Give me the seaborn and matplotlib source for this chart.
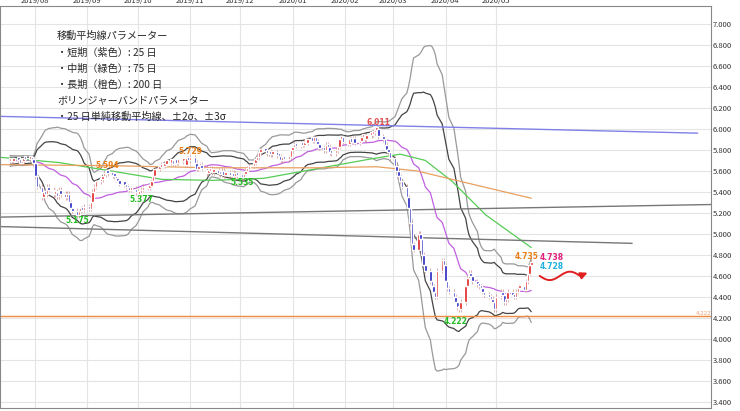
import numpy as np
import pandas as pd
import matplotlib
matplotlib.use("Agg")
import matplotlib.pyplot as plt
import matplotlib.dates as mdates
import seaborn as sns

# ---- data ----
PRE_CLOSES = [5.66, 5.68, 5.67, 5.70, 5.69, 5.71, 5.68, 5.66, 5.69, 5.70,
              5.72, 5.70, 5.68, 5.71, 5.73, 5.70, 5.69, 5.72, 5.71, 5.70,
              5.68, 5.70, 5.71, 5.69]
CLOSES = [
    5.70, 5.69, 5.71,
    5.70, 5.68, 5.69, 5.72, 5.71,
    5.72, 5.70, 5.68, 5.55, 5.45,
    5.35, 5.40, 5.38, 5.45, 5.42,
    5.38, 5.40, 5.36, 5.42, 5.38,
    5.35, 5.38, 5.30, 5.25, 5.22,
    5.18, 5.22, 5.24, 5.23, 5.26,
    5.24, 5.30, 5.40, 5.45, 5.50,
    5.52, 5.55, 5.57, 5.59, 5.58,
    5.56, 5.55, 5.52, 5.50, 5.48,
    5.47, 5.45, 5.44, 5.42, 5.43,
    5.40, 5.38, 5.39, 5.42, 5.45,
    5.44, 5.46, 5.50, 5.55, 5.62,
    5.64, 5.66, 5.65, 5.67, 5.68,
    5.68, 5.67, 5.69, 5.68, 5.69,
    5.70, 5.66, 5.72, 5.70, 5.73,
    5.68, 5.62, 5.65, 5.66, 5.63,
    5.58, 5.60, 5.62, 5.59, 5.60,
    5.58, 5.57, 5.60, 5.56, 5.58,
    5.56, 5.58, 5.55, 5.57, 5.56,
    5.54, 5.57, 5.60, 5.62, 5.65,
    5.68, 5.70, 5.73, 5.78, 5.80,
    5.79, 5.77, 5.78, 5.76, 5.77,
    5.75, 5.74, 5.70, 5.72, 5.71,
    5.73, 5.80, 5.83, 5.85, 5.84,
    5.86, 5.85, 5.88, 5.87, 5.90,
    5.89, 5.92, 5.88, 5.86, 5.82,
    5.80, 5.85, 5.83, 5.78, 5.77,
    5.80, 5.83, 5.90, 5.92, 5.88,
    5.86, 5.90, 5.88, 5.91, 5.87,
    5.89, 5.92, 5.93, 5.90, 5.94,
    5.95, 5.97, 5.99, 6.00, 5.93,
    5.90, 5.85, 5.80, 5.78, 5.72,
    5.65, 5.60, 5.55, 5.50, 5.45,
    5.35, 5.25, 5.10, 4.90, 4.85,
    5.00, 4.95, 4.80, 4.70, 4.65,
    4.55, 4.50, 4.45, 4.40, 4.65,
    4.75, 4.70, 4.55, 4.48, 4.45,
    4.40, 4.35, 4.30, 4.28, 4.35,
    4.50, 4.58, 4.63, 4.60, 4.55,
    4.52, 4.50, 4.48, 4.45, 4.42,
    4.40, 4.38, 4.35, 4.28, 4.40,
    4.45, 4.42, 4.35, 4.38, 4.45,
    4.42, 4.40, 4.45, 4.48, 4.50,
    4.47, 4.55, 4.62, 4.70, 4.735,
]
START = "2019-07-17"

MA75_DATES = ["2019-07-11", "2019-08-15", "2019-09-15", "2019-10-15", "2019-11-15",
              "2019-12-15", "2020-01-15", "2020-02-15", "2020-03-05", "2020-03-20",
              "2020-04-05", "2020-04-25", "2020-05-22"]
MA75_VALUES = [5.73, 5.68, 5.60, 5.52, 5.51, 5.53, 5.62, 5.71, 5.76, 5.70, 5.50, 5.18, 4.87]
MA200_DATES = ["2019-07-11", "2019-09-15", "2019-11-15", "2020-01-15", "2020-02-20",
               "2020-03-15", "2020-04-10", "2020-05-22"]
MA200_VALUES = [5.66, 5.65, 5.63, 5.63, 5.64, 5.60, 5.50, 5.34]

TREND_DATES = [["2019-07-11", "2020-08-29"], ["2019-07-11", "2020-09-06"],
               ["2019-07-11", "2020-07-21"]]
TREND_VALUES = [[6.12, 5.96], [5.16, 5.28], [5.07, 4.91]]
TREND_COLORS = ["#8080e8", "#777777", "#777777"]
SUPPORT = 4.222

LABELS = [("2019-08-26", 5.175, "5.175", "#22bb22", -0.07),
          ("2019-10-03", 5.377, "5.377", "#22bb22", -0.07),
          ("2019-12-02", 5.535, "5.535", "#22bb22", -0.07),
          ("2019-09-13", 5.594, "5.594", "#e8801a", 0.03),
          ("2019-11-01", 5.729, "5.729", "#e8801a", 0.03),
          ("2020-02-21", 6.011, "6.011", "#e05050", 0.03),
          ("2020-04-07", 4.222, "4.222", "#22bb22", -0.08)]

TEXT_LINES = ["移動平均線パラメーター", "・短期（紫色）: 25 日", "・中期（緑色）: 75 日",
              "・長期（橙色）: 200 日", "ボリンジャーバンドパラメーター",
              "・25 日単純移動平均線、±2σ、±3σ"]

# ---- build ----
dates = pd.bdate_range(START, periods=len(CLOSES))
allc = pd.Series(PRE_CLOSES + CLOSES, dtype=float)
mid = allc.rolling(25).mean().iloc[len(PRE_CLOSES):].to_numpy()
sd = allc.rolling(25).std(ddof=0).iloc[len(PRE_CLOSES):].to_numpy()
close = np.array(CLOSES)
opn = np.array(PRE_CLOSES[-1:] + CLOSES[:-1])

sns.set_style("white")
plt.rcParams["font.family"] = ["Noto Sans CJK JP", "DejaVu Sans"]

fig = plt.figure(figsize=(7.4, 4.11), dpi=100)
ax = fig.add_axes([0.0, 0.007, 0.961, 0.978])

for k, c, w in [(3, "#999999", 0.9), (2, "#444444", 0.9)]:
    sns.lineplot(x=dates, y=mid + k * sd, ax=ax, color=c, lw=w)
    sns.lineplot(x=dates, y=mid - k * sd, ax=ax, color=c, lw=w)
sns.lineplot(x=dates, y=mid, ax=ax, color="#c060e0", lw=0.9)
sns.lineplot(x=pd.to_datetime(MA75_DATES), y=MA75_VALUES, ax=ax, color="#55cc55", lw=0.9)
sns.lineplot(x=pd.to_datetime(MA200_DATES), y=MA200_VALUES, ax=ax, color="#e8a060", lw=0.9)
for d, v, c in zip(TREND_DATES, TREND_VALUES, TREND_COLORS):
    sns.lineplot(x=pd.to_datetime(d), y=v, ax=ax, color=c, lw=1.0)
ax.axhline(SUPPORT, color="#f08a40", lw=1.0)

up = close >= opn
cols = np.where(up, "#e02020", "#2020c0")
lo = np.minimum(opn, close)
hi = np.maximum(opn, close)
ax.vlines(dates, lo - 0.025, hi + 0.025, colors="#cc8888", lw=0.5, zorder=3)
ax.bar(dates, np.maximum(hi - lo, 0.03), bottom=lo, width=1.5, color=cols, zorder=4)

for d, v, t, c, dy in LABELS:
    ax.text(pd.Timestamp(d), v + dy, t, color=c, fontsize=5.5, ha="center",
            fontweight="bold", family="DejaVu Sans")
ax.text(pd.Timestamp("2020-05-19"), 4.76, "4.735", color="#e8801a", fontsize=5.5,
        ha="center", fontweight="bold", family="DejaVu Sans")
ax.text(pd.Timestamp("2020-05-27"), 4.75, "4.738", color="#e0207a", fontsize=5.5,
        fontweight="bold", family="DejaVu Sans")
ax.text(pd.Timestamp("2020-05-27"), 4.67, "4.728", color="#20b0e0", fontsize=5.5,
        fontweight="bold", family="DejaVu Sans")
ax.text(1.0, SUPPORT, "4.222", transform=ax.get_yaxis_transform(), color="#f0a070",
        fontsize=4, ha="right", va="bottom", family="DejaVu Sans")

# red wavy arrow
wx = pd.date_range("2020-05-27", "2020-06-20", periods=30)
wy = [4.60 - 0.04 * np.sin(i / 29 * 2 * np.pi) for i in range(30)]
ax.plot(wx, wy, color="#e02020", lw=1.4)
ax.annotate("", xy=(pd.Timestamp("2020-06-26"), 4.64), xytext=(wx[-1], wy[-1]),
            arrowprops=dict(arrowstyle="-|>", color="#e02020", lw=1.4))

for i, t in enumerate(TEXT_LINES):
    ax.text(0.08, 0.925 - i * 0.04, t, transform=ax.transAxes, fontsize=7.3, va="center")

ax.set_xlim(pd.Timestamp("2019-07-11"), pd.Timestamp("2020-09-06"))
ax.set_ylim(3.34, 7.17)
ax.set_yticks(np.arange(3.4, 7.01, 0.2))
ax.yaxis.set_major_formatter(matplotlib.ticker.FormatStrFormatter("%.3f"))
ax.yaxis.tick_right()
ax.xaxis.tick_top()
ax.set_xticks(pd.date_range("2019-08-01", "2020-05-01", freq="MS"))
ax.xaxis.set_major_formatter(mdates.DateFormatter("%Y/%m"))
ax.tick_params(labelsize=5.5, colors="#333333", length=0, pad=1)
ax.grid(True, color="#e4e4e4", lw=0.8)
ax.set_xlabel("")
ax.set_ylabel("")
for s in ax.spines.values():
    s.set_color("#888888")
    s.set_linewidth(0.8)
fig.savefig("out.png", dpi=100)
